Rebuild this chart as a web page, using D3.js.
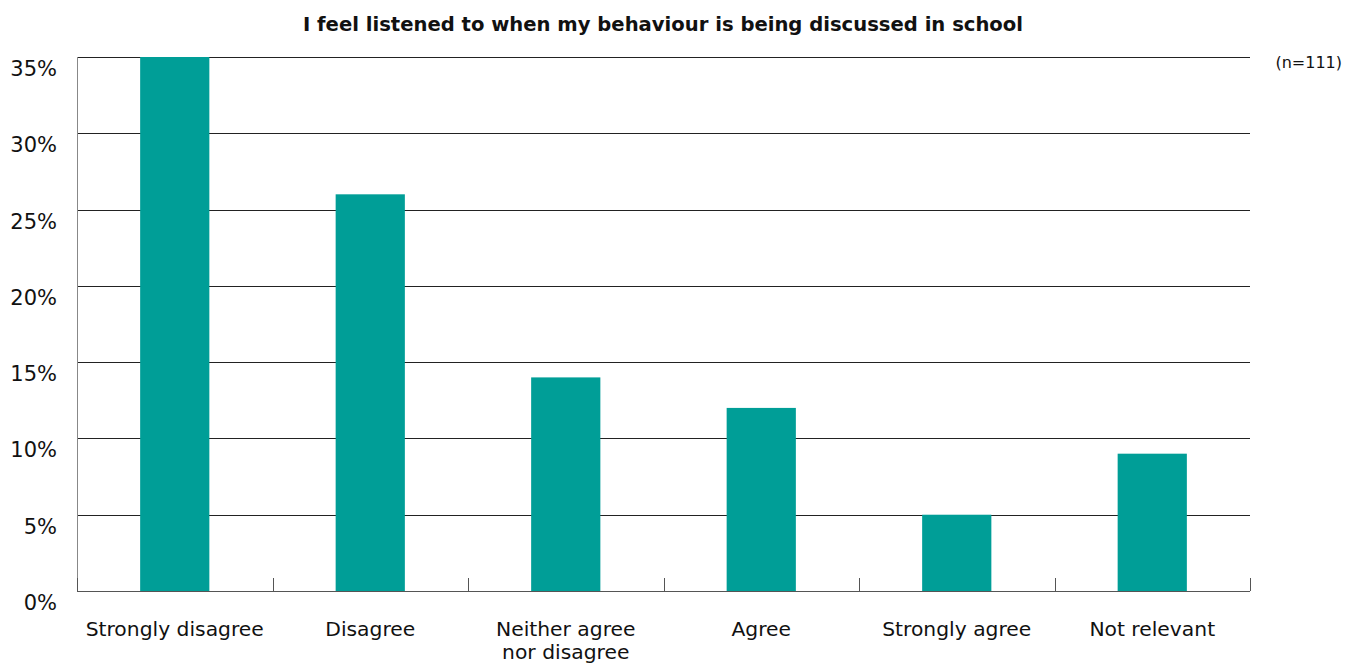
<!DOCTYPE html>
<html><head><meta charset="utf-8">
<script src="https://cdn.jsdelivr.net/npm/d3@7"></script>
<style>body{margin:0;background:#fff}svg{display:block}text{font-family:"DejaVu Sans",sans-serif;fill:#111}</style>
</head><body><svg id="c" width="1346" height="666"></svg>
<script>
const categories = ["Strongly disagree","Disagree","Neither agree\nnor disagree","Agree","Strongly agree","Not relevant"];
const values = [35, 26, 14, 12, 5, 9];
const yTicks = [0,5,10,15,20,25,30,35];
const title = "I feel listened to when my behaviour is being discussed in school";
const note = "(n=111)";

const svg = d3.select("#c");
const m = {l:77, r:1250, t:57, b:591};
const x = d3.scaleBand().domain(categories).range([m.l, m.r]).paddingInner(0.646).paddingOuter(0.323);
const y = d3.scaleLinear().domain([0,35]).range([m.b, m.t]);

svg.append("text").attr("x",663).attr("y",31).attr("text-anchor","middle")
  .style("font-weight","bold").style("font-size","19.6px").text(title);
svg.append("text").attr("x",1342).attr("y",68).attr("text-anchor","end")
  .style("font-size","16px").text(note);

// gridlines
svg.append("g").selectAll("line").data(yTicks.filter(d=>d>0)).join("line")
  .attr("x1",m.l).attr("x2",m.r).attr("y1",d=>Math.round(y(d))+0.5).attr("y2",d=>Math.round(y(d))+0.5)
  .attr("stroke","#222").attr("stroke-width",1);

// y labels
svg.append("g").selectAll("text").data(yTicks).join("text")
  .attr("x",57).attr("y",d=>y(d)+19).attr("text-anchor","end")
  .style("font-size","21px").text(d=>d+"%");

// bars
svg.append("g").selectAll("rect").data(values).join("rect")
  .attr("x",(d,i)=>x(categories[i])).attr("width",x.bandwidth())
  .attr("y",d=>y(d)).attr("height",d=>y(0)-y(d)).attr("fill","#009E97");

// left axis
svg.append("line").attr("x1",m.l+0.5).attr("x2",m.l+0.5).attr("y1",m.t).attr("y2",m.b).attr("stroke","#888");
// bottom axis
svg.append("line").attr("x1",m.l).attr("x2",m.r).attr("y1",m.b+0.5).attr("y2",m.b+0.5).attr("stroke","#555");
const bounds = d3.range(categories.length+1).map(i=>m.l + i*(m.r-m.l)/categories.length);
svg.append("g").selectAll("line").data(bounds).join("line")
  .attr("x1",d=>Math.round(d)+0.5).attr("x2",d=>Math.round(d)+0.5).attr("y1",m.b-13).attr("y2",m.b)
  .attr("stroke","#555");

// x labels
const xl = svg.append("g").selectAll("text").data(categories).join("text")
  .attr("x",d=>x(d)+x.bandwidth()/2).attr("y",636).attr("text-anchor","middle").style("font-size","20.3px");
xl.each(function(d){
  const t=d3.select(this);
  d.split("\n").forEach((s,i)=>t.append("tspan").attr("x",x(d)+x.bandwidth()/2).attr("dy",i?23:0).text(s));
});
</script></body></html>
